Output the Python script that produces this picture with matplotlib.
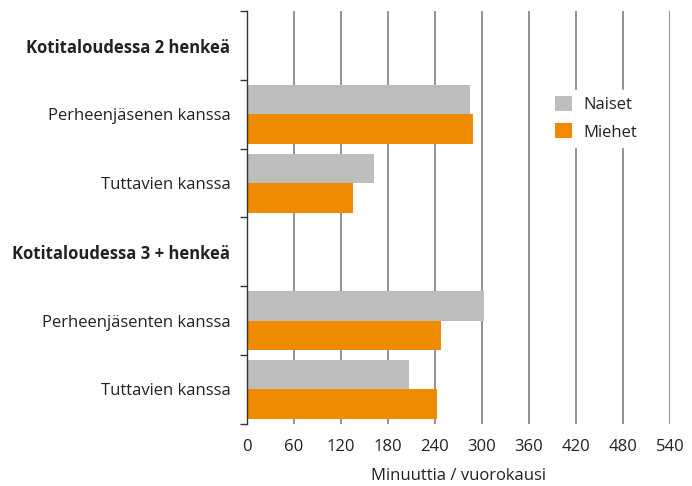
"""
Ajankäyttö: seurassa vietetty aika kotitalouden koon mukaan.
"""

import matplotlib
matplotlib.use('Agg')
import matplotlib.pyplot as plt
import numpy as np

categories = [
    'Kotitaloudessa 2 henkeä',
    'Perheenjäsenen kanssa',
    'Tuttavien kanssa',
    'Kotitaloudessa 3 + henkeä',
    'Perheenjäsenten kanssa',
    'Tuttavien kanssa',
]
is_header = [True, False, False, True, False, False]
naiset = [np.nan, 285, 162, np.nan, 303, 207]
miehet = [np.nan, 288, 135, np.nan, 248, 242]
xticks = [0, 60, 120, 180, 240, 300, 360, 420, 480, 540]

GRAY = '#bdbdbb'
ORANGE = '#f08a00'
FS = 12

plt.rcParams['font.family'] = ['Open Sans', 'DejaVu Sans']

fig = plt.figure(figsize=(6.92, 4.86), dpi=100)
ax = fig.add_axes([0.357, 0.128, 0.611, 0.849])

n = len(categories)
pos = np.arange(n)  # slot centres, 0 at top
h = 0.43
ax.barh(pos - h / 2, naiset, height=h, color=GRAY, label='Naiset', zorder=2)
ax.barh(pos + h / 2, miehet, height=h, color=ORANGE, label='Miehet', zorder=2)

ax.set_ylim(n - 0.5, -0.5)
ax.set_xlim(0, 540)

# rajaviivat kategorioiden välissä
ax.set_yticks(np.arange(n + 1) - 0.5)
ax.set_yticklabels([])
ax.tick_params(axis='y', which='major', length=5, width=1, color='#333333')
ax.set_yticks(pos, minor=True)
ax.set_yticklabels(categories, minor=True)
ax.tick_params(axis='y', which='minor', length=0, pad=12, labelsize=FS,
               labelcolor='#222222')
for lbl, bold in zip(ax.get_yticklabels(minor=True), is_header):
    if bold:
        lbl.set_fontweight('bold')

ax.set_xticks(xticks)
ax.tick_params(axis='x', length=0, pad=11, labelsize=FS, labelcolor='#222222')
ax.xaxis.grid(True, color='#808080', linewidth=1.2, zorder=0)
ax.set_axisbelow(True)
ax.set_xlabel('Minuuttia / vuorokausi', fontsize=FS, color='#222222', labelpad=9)

for s in ['top', 'right', 'bottom']:
    ax.spines[s].set_visible(False)
ax.spines['left'].set_color('#333333')
ax.spines['left'].set_linewidth(1)
ax.spines['left'].set_zorder(3)

leg = ax.legend(loc='upper left', bbox_to_anchor=(0.693, 0.83), frameon=True,
                fontsize=FS, handlelength=1.0, handleheight=1.0,
                handletextpad=0.7, labelspacing=0.6, borderpad=0.4,
                fancybox=False, edgecolor='white', framealpha=1)
for t in leg.get_texts():
    t.set_color('#222222')

fig.savefig('out.png', dpi=100)
